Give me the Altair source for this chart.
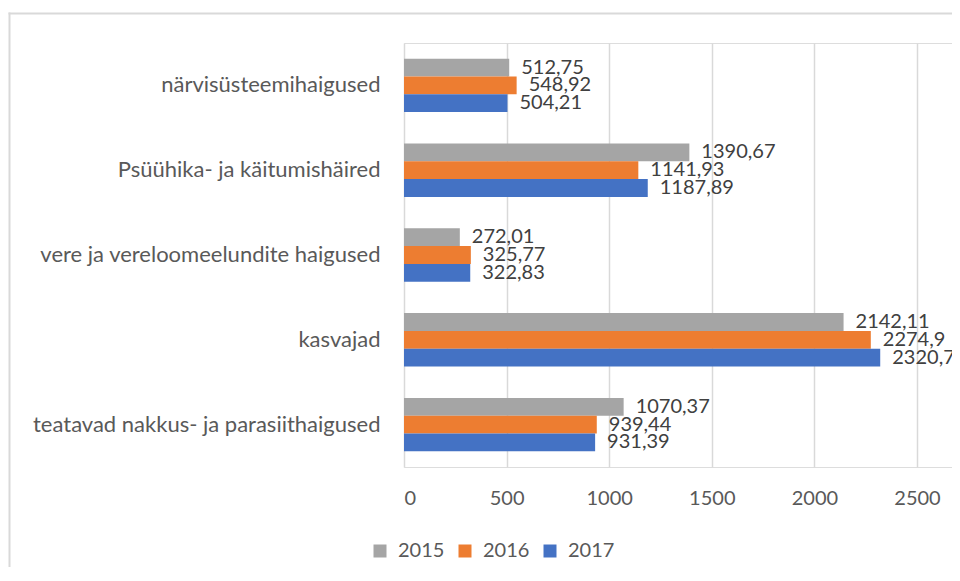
import altair as alt
import pandas as pd

categories = [
    "närvisüsteemihaigused",
    "Psüühika- ja käitumishäired",
    "vere ja vereloomeelundite haigused",
    "kasvajad",
    "teatavad nakkus- ja parasiithaigused",
]
years = ["2015", "2016", "2017"]
values_2015 = [512.75, 1390.67, 272.01, 2142.11, 1070.37]
values_2016 = [548.92, 1141.93, 325.77, 2274.9, 939.44]
values_2017 = [504.21, 1187.89, 322.83, 2320.76, 931.39]
tick_values = [0, 500, 1000, 1500, 2000, 2500]
colors = ["#A5A5A5", "#ED7D31", "#4472C4"]

rows = []
for year, vals in zip(years, [values_2015, values_2016, values_2017]):
    for cat, v in zip(categories, vals):
        rows.append({"kategooria": cat, "aasta": year, "väärtus": v})
df = pd.DataFrame(rows)

FONT = "Lato"
LABEL_GREY = "#595959"

y_enc = alt.Y(
    "kategooria:N",
    sort=categories,
    title=None,
    scale=alt.Scale(paddingInner=0.37, paddingOuter=0.185),
    axis=alt.Axis(
        domain=False,
        ticks=False,
        grid=False,
        labelPadding=24,
        labelFontSize=22,
        labelColor=LABEL_GREY,
        labelFont=FONT,
        labelLimit=600,
    ),
)
yoff_enc = alt.YOffset("aasta:N", sort=years, scale=alt.Scale(paddingInner=0, paddingOuter=0))
x_enc = alt.X(
    "väärtus:Q",
    title=None,
    scale=alt.Scale(domain=[0, 2768], nice=False, zero=True),
    axis=alt.Axis(
        values=tick_values,
        format="d",
        grid=True,
        gridColor="#D9D9D9",
        gridWidth=1.5,
        domain=False,
        ticks=False,
        labelPadding=21,
        labelFontSize=20,
        labelColor=LABEL_GREY,
        labelFont=FONT,
    ),
)

base = alt.Chart(df)

bars = base.mark_bar(size=17.8).encode(
    y=y_enc,
    yOffset=yoff_enc,
    x=x_enc,
    color=alt.Color(
        "aasta:N",
        sort=years,
        scale=alt.Scale(domain=years, range=colors),
        legend=alt.Legend(
            title=None,
            orient="none",
            direction="horizontal",
            legendX=-34,
            legendY=498,
            symbolType="square",
            symbolSize=169,
            symbolStrokeWidth=0,
            labelFontSize=20,
            labelFont=FONT,
            labelColor=LABEL_GREY,
            labelOffset=8,
            columnPadding=10,
        ),
    ),
)

labels = base.transform_calculate(
    silt="replace(toString(datum['väärtus']), '.', ',')"
).mark_text(
    align="left", baseline="middle", dx=12, fontSize=20, font=FONT, color="#404040"
).encode(
    y=alt.Y("kategooria:N", sort=categories),
    yOffset=alt.YOffset("aasta:N", sort=years),
    x=alt.X("väärtus:Q"),
    text="silt:N",
)

frame_df = pd.DataFrame({"k": [0]})
frame_top = alt.Chart(frame_df).mark_rule(color="#D9D9D9", strokeWidth=2).encode(
    x=alt.value(-395.5),
    x2=alt.value(560),
    y=alt.value(-29.5),
)
frame_left = alt.Chart(frame_df).mark_rule(color="#D9D9D9", strokeWidth=2).encode(
    x=alt.value(-394.5),
    y=alt.value(-30.5),
    y2=alt.value(524),
)

chart = alt.layer(frame_top, frame_left, bars, labels).properties(
    width=568,
    height=424,
    autosize=alt.AutoSizeParams(type="none"),
    padding={"left": 396, "top": 35, "right": -20, "bottom": 100},
).configure_view(stroke=None).configure(background="white")

chart.save("out.html", embed_options={"renderer": "svg", "actions": False})
